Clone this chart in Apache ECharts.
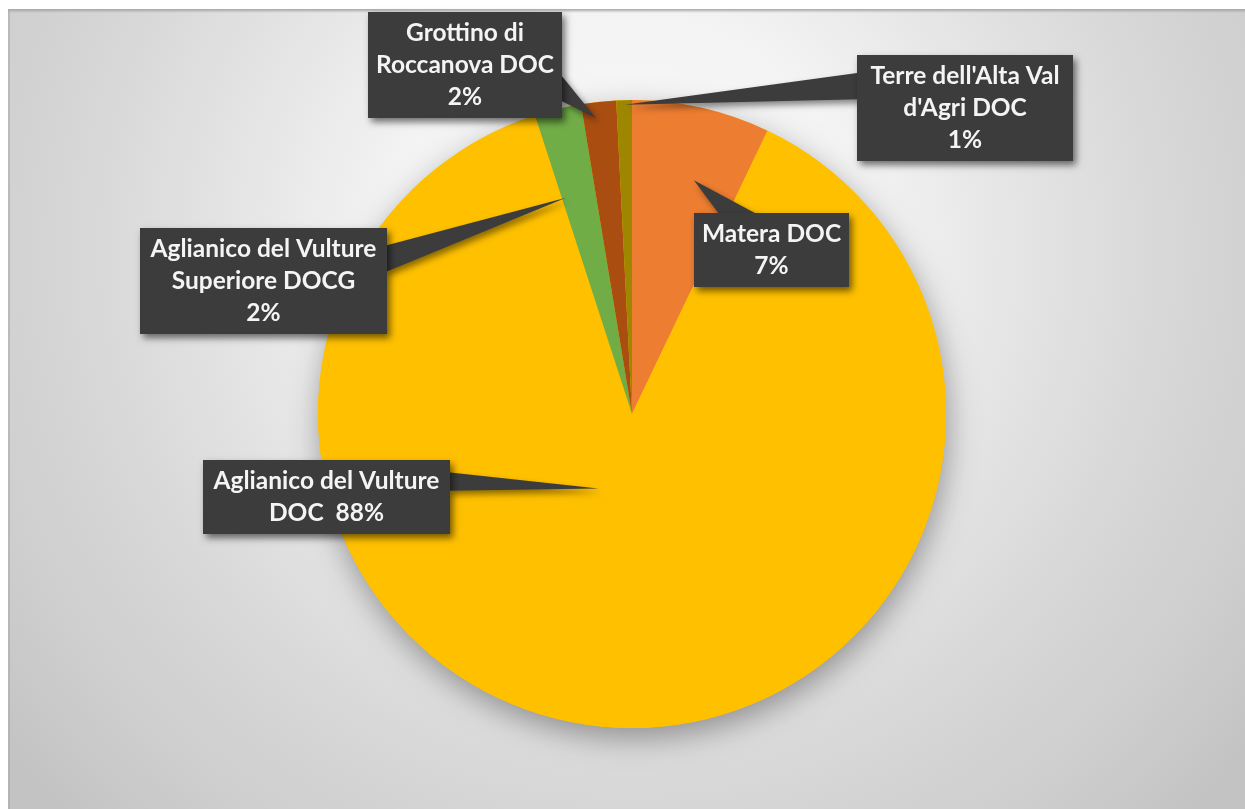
<!DOCTYPE html>
<html><head><meta charset="utf-8">
<script src="https://cdn.jsdelivr.net/npm/echarts@6/dist/echarts.min.js"></script>
<style>html,body{margin:0;padding:0;background:#fff;overflow:hidden}#chart{width:1245px;height:809px}</style>
</head><body><div id="chart"></div>
<script>
// ---- data ----
const categories = ["Matera DOC", "Aglianico del Vulture DOC", "Aglianico del Vulture Superiore DOCG", "Grottino di Roccanova DOC", "Terre dell'Alta Val d'Agri DOC"];
const shares = [7.1, 87.9, 2.4, 1.8, 0.8];
const labelNames = ["Matera DOC", "Aglianico del Vulture\nDOC", "Aglianico del Vulture\nSuperiore DOCG", "Grottino di\nRoccanova DOC", "Terre dell'Alta Val\nd'Agri DOC"];
const labelSeparators = ["\n", "  ", "\n", "\n", "\n"];
const colors = ["#ED7D31", "#FFC000", "#70AD47", "#A94D10", "#9E8600"];

// ---- layout (callout boxes: left, top, width; wedge tips: fraction along slice, fraction of radius) ----
const boxes = [[694, 213, 155], [203, 460, 247], [140, 228, 247], [368, 12, 194], [857, 55, 216]];
const tips = [[0.58, 0.77], [0.565, 0.26], [0.12, 0.72], [0.37, 0.95], [0.53, 0.985]];
const LINE_H = 32, PAD = 5, BOX_COLOR = '#3c3c3c';
const FONT = 'Lato, "Open Sans", sans-serif';

function labelText(i, pct) { return labelNames[i] + labelSeparators[i] + Math.round(pct) + '%'; }
function lineCount(i) { return (labelNames[i] + labelSeparators[i] + 'x').split('\n').length; }

const chart = echarts.init(document.getElementById('chart'), null, {renderer: 'canvas'});
const CENTER = [632, 414], RADIUS = 314;

const bgGraphics = [
  {type: 'rect', id: 'bg', left: 8, top: 9, z: -10, silent: true,
   shape: {x: 0, y: 0, width: 1237, height: 800},
   style: {fill: {type: 'radial', x: 0.5, y: 0.3, r: 1.0, colorStops: [
     {offset: 0, color: '#fbfbfb'}, {offset: 0.3, color: '#f3f3f3'}, {offset: 0.5, color: '#e4e4e4'},
     {offset: 0.7, color: '#d6d6d6'}, {offset: 0.85, color: '#cecece'}, {offset: 1, color: '#c3c3c3'}]}}},
  {type: 'rect', id: 'topedge', left: 8, top: 9, z: -9, silent: true,
   shape: {x: 0, y: 0, width: 1237, height: 4},
   style: {fill: {type: 'linear', x: 0, y: 0, x2: 0, y2: 1, colorStops: [
     {offset: 0, color: 'rgba(160,160,160,0.9)'}, {offset: 1, color: 'rgba(160,160,160,0)'}]}}},
  {type: 'rect', id: 'leftedge', left: 8, top: 9, z: -9, silent: true,
   shape: {x: 0, y: 0, width: 2, height: 800},
   style: {fill: 'rgba(170,170,170,0.6)'}}
];

chart.setOption({
  animation: false,
  graphic: bgGraphics,
  series: [
    { // backing disc for the pie's drop shadow
      type: 'pie', z: 1, silent: true, center: CENTER, radius: RADIUS, startAngle: 90,
      label: {show: false}, labelLine: {show: false},
      data: [{value: 1, itemStyle: {color: '#FFC000', shadowBlur: 30, shadowColor: 'rgba(0,0,0,0.35)', shadowOffsetY: 10, shadowOffsetX: 2}}]
    },
    { // slices
      type: 'pie', z: 2, silent: true, center: CENTER, radius: RADIUS, startAngle: 90, clockwise: true,
      label: {show: false}, labelLine: {show: false},
      data: categories.map((c, i) => ({name: c, value: shares[i], itemStyle: {color: colors[i], borderWidth: 0}}))
    },
    { // callout labels
      type: 'pie', z: 5, silent: true, center: CENTER, radius: RADIUS, startAngle: 90, clockwise: true,
      avoidLabelOverlap: false,
      itemStyle: {color: 'rgba(0,0,0,0)'},
      labelLine: {show: false},
      label: {
        show: true, position: 'inside',
        formatter: p => labelText(p.dataIndex, p.percent),
        color: '#f4f4f4', fontFamily: FONT, fontWeight: 'bold', fontSize: 24.5, lineHeight: LINE_H,
        backgroundColor: BOX_COLOR, padding: [PAD, 0, PAD, 0], align: 'center',
        shadowBlur: 7, shadowColor: 'rgba(0,0,0,0.55)', shadowOffsetX: 3, shadowOffsetY: 4
      },
      labelLayout: p => {
        const b = boxes[p.dataIndex];
        return {x: b[0] + b[2] / 2, y: b[1], align: 'center', verticalAlign: 'top'};
      },
      data: categories.map((c, i) => ({name: c, value: shares[i], label: {width: boxes[i][2]}}))
    }
  ]
});

// ---- wedge pointers of the callouts, tips placed from the library's pie layout ----
function buildWedges() {
  let data = null;
  try { data = chart.getModel().getSeriesByIndex(1).getData(); } catch (e) { data = null; }
  const wedges = [];
  categories.forEach((c, i) => {
    let L = data ? data.getItemLayout(i) : null;
    if (!L) return;
    const a = L.startAngle + tips[i][0] * (L.endAngle - L.startAngle);
    const tr = L.r * tips[i][1];
    const tx = L.cx + tr * Math.cos(a), ty = L.cy + tr * Math.sin(a);
    const x = boxes[i][0], y = boxes[i][1], w = boxes[i][2];
    const h = lineCount(i) * LINE_H + 2 * PAD;
    const dx = tx - (x + w / 2), dy = ty - (y + h / 2);
    let b1, b2;
    if (Math.abs(dy) * w > Math.abs(dx) * h) {
      const ey = dy > 0 ? y + h - 2 : y + 2;
      const f = dx > 0 ? [7 / 12, 10 / 12] : [2 / 12, 5 / 12];
      b1 = [x + w * f[0], ey]; b2 = [x + w * f[1], ey];
    } else {
      const ex = dx > 0 ? x + w - 2 : x + 2;
      const f = dy > 0 ? [7 / 12, 10 / 12] : [2 / 12, 5 / 12];
      b1 = [ex, y + h * f[0]]; b2 = [ex, y + h * f[1]];
    }
    wedges.push({type: 'polygon', id: 'wedge' + i, z: 3, silent: true,
      shape: {points: [[tx, ty], b1, b2]},
      style: {fill: BOX_COLOR, shadowBlur: 6, shadowColor: 'rgba(0,0,0,0.45)', shadowOffsetX: 3, shadowOffsetY: 4}});
  });
  chart.setOption({graphic: bgGraphics.concat(wedges)});
}
buildWedges();
</script>
</body></html>
